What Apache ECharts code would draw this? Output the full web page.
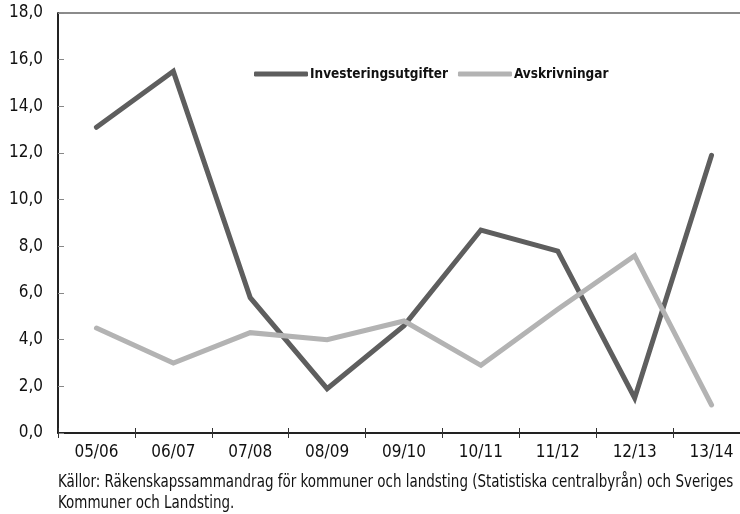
<!DOCTYPE html>
<html>
<head>
<meta charset="utf-8">
<script src="https://cdn.jsdelivr.net/npm/echarts@6/dist/echarts.min.js"></script>
<style>
  html, body { margin: 0; padding: 0; background: #fff; overflow: hidden; }
  /* the reference plot is cut off on the right, so the canvas is a bit wider than the window */
  #chart { width: 750px; height: 514px; }
</style>
</head>
<body>
<div id="chart"></div>
<script>
// data
const years = ['05/06', '06/07', '07/08', '08/09', '09/10', '10/11', '11/12', '12/13', '13/14'];
const investeringsutgifter = [13.1, 15.5, 5.8, 1.9, 4.6, 8.7, 7.8, 1.5, 11.9];
const avskrivningar = [4.5, 3.0, 4.3, 4.0, 4.8, 2.9, 5.3, 7.6, 1.2];
const sourceText = 'Källor: Räkenskapssammandrag för kommuner och landsting (Statistiska centralbyrån) och Sveriges\nKommuner och Landsting.';

const font = '"DejaVu Sans Condensed", "Liberation Sans Narrow", sans-serif';

const chart = echarts.init(document.getElementById('chart'));

const option = {
  animation: false,
  textStyle: { fontFamily: font },
  grid: {
    left: 58, top: 13, right: 0, bottom: 81,
    show: true, borderColor: '#666', borderWidth: 1.5
  },
  legend: {
    left: 249, top: 62,
    icon: 'roundRect',
    itemWidth: 54, itemHeight: 5,
    itemGap: 10,
    textStyle: { fontFamily: font, fontSize: 13.5, fontWeight: 'bold', color: '#111', padding: [0, 0, 0, -3] },
    data: ['Investeringsutgifter', 'Avskrivningar']
  },
  xAxis: [
    {
      type: 'category',
      data: years,
      axisLine: { lineStyle: { color: '#000', width: 1.5 } },
      axisTick: { show: true, length: 5, lineStyle: { color: '#333' } },
      axisLabel: { fontFamily: font, fontSize: 17, color: '#111', margin: 11 }
    },
    {
      type: 'category',
      data: years,
      position: 'bottom',
      axisLine: { show: false },
      axisTick: { show: true, inside: true, length: 5, lineStyle: { color: '#333' } },
      axisLabel: { show: false }
    }
  ],
  yAxis: {
    type: 'value',
    min: 0, max: 18, interval: 2,
    splitLine: { show: false },
    axisLine: { show: true, lineStyle: { color: '#000', width: 1.5 } },
    axisTick: { show: true, inside: true, length: 6, lineStyle: { color: '#888' } },
    axisLabel: {
      fontFamily: font, fontSize: 17, color: '#111', margin: 15,
      formatter: v => v.toFixed(1).replace('.', ',')
    }
  },
  series: [
    {
      name: 'Investeringsutgifter',
      type: 'line',
      data: investeringsutgifter,
      showSymbol: false,
      color: '#5e5e5e',
      lineStyle: { width: 5, color: '#5e5e5e', cap: 'round', join: 'miter' }
    },
    {
      name: 'Avskrivningar',
      type: 'line',
      data: avskrivningar,
      showSymbol: false,
      color: '#b3b3b3',
      lineStyle: { width: 5, color: '#b3b3b3', cap: 'round', join: 'miter' }
    }
  ],
  graphic: [
    {
      type: 'text',
      x: 58, y: 472,
      scaleX: 0.88,
      style: {
        text: sourceText,
        font: '17px ' + font,
        fill: '#111',
        lineHeight: 21
      }
    }
  ]
};

chart.setOption(option);
</script>
</body>
</html>
